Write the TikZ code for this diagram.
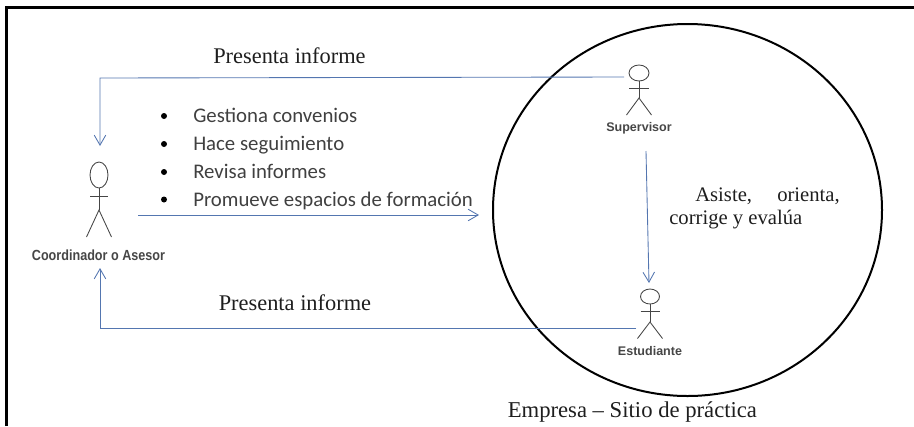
\documentclass[tikz,border=0pt]{standalone}
\usepackage{fontspec}
\setmainfont{Liberation Serif}
\newfontfamily\calibrilike{Carlito}
\newfontfamily\arialn{Liberation Sans}
\newfontfamily\arialnarrow[FakeStretch=0.86]{Liberation Sans}
\usetikzlibrary{arrows.meta}
\definecolor{conn}{RGB}{84,118,176}
\definecolor{ink}{RGB}{30,30,30}
\definecolor{stick}{RGB}{70,70,70}
\tikzset{
 x=0.75pt,y=-0.75pt,
 flow/.style={draw=conn,line width=0.65pt,-{Straight Barb[length=7.5pt,width=9pt,angle'=60]}},
 seglabel/.style={font=\fontsize{16.8}{18}\selectfont,text=ink,inner sep=0pt,anchor=base west},
 midlabel/.style={font=\fontsize{15.5}{18}\selectfont,text=ink,inner sep=0pt,anchor=base west},
 listlabel/.style={font=\calibrilike\fontsize{15.6}{18}\selectfont,text=ink!85,inner sep=0pt,anchor=base west},
 dotmark/.style={circle,fill=black,inner sep=0pt,minimum size=4.5pt},
 actorlabel/.style={font=\arialn\bfseries\fontsize{9.4}{11}\selectfont,text=stick,inner sep=0pt},
 limb/.style={draw=stick,line width=0.65pt},
}
\newcommand{\actorfig}[7]{% x, y of head centre, rx, ry, cross, hip, feet
 \begin{scope}[shift={(#1,#2)}]
  \draw[limb] (0,0) ellipse (#3 and #4);
  \draw[limb] (0,#4) -- (0,#6);
  \draw[limb] (-#3,#5) -- (#3,#5);
  \draw[limb] (-12.5,#7) -- (0,#6) -- (12.5,#7);
 \end{scope}}
\begin{document}
\begin{tikzpicture}
\useasboundingbox (0,0) rectangle (914,426);
\draw[black,line width=2.2pt] (6.5,426) -- (6.5,7.5) -- (914,7.5);
\draw[black,line width=1.5pt] (687.5,210) ellipse (194.5 and 186);
\actorfig{99}{175}{9}{13}{21}{35}{62}
\actorfig{639}{73}{10}{8}{15}{25}{42}
\actorfig{650}{296.5}{9.5}{7.5}{14.5}{25.5}{42}
\node[actorlabel,font=\arialnarrow\bfseries\fontsize{11}{12}\selectfont] (coordl) at (98.5,255) {Coordinador o Asesor};
\node[actorlabel] (supl) at (639,128.5) {Supervisor};
\node[actorlabel] (estl) at (650,351) {Estudiante};
\node[seglabel] (p1) at (213,63) {Presenta informe};
\node[seglabel] (p2) at (218.5,310) {Presenta informe};
\node[dotmark] (d1) at (164,116) {};
\node[dotmark] (d2) at (164,144) {};
\node[dotmark] (d3) at (164,172) {};
\node[dotmark] (d4) at (164,199.5) {};
\node[listlabel] (l1) at (193,122) {Gestiona convenios};
\node[listlabel] (l2) at (193,150) {Hace seguimiento};
\node[listlabel] (l3) at (193,178) {Revisa informes};
\node[listlabel] (l4) at (193,206) {Promueve espacios de formación};
\node[midlabel] (a1) at (695,201) {Asiste,};
\node[midlabel] (a2) at (777,201) {orienta,};
\node[midlabel] (a3) at (669,224) {corrige y evalúa};
\node[seglabel,font=\fontsize{17}{18}\selectfont] (e) at (507.5,417) {Empresa – Sitio de práctica};
\coordinate (supout) at (624,77);
\coordinate (coordin) at (100,146);
\coordinate (estout) at (636,328.5);
\coordinate (coordin2) at (100,268);
\coordinate (m1) at (138,215);
\coordinate (m2) at (479,215);
\coordinate (s1) at (646,151);
\coordinate (s2) at (649,283);
\draw[flow] (supout) -- (100,78) -- (coordin);
\draw[flow] (estout) -- (100,328.5) -- (coordin2);
\draw[flow] (m1) -- (m2);
\draw[flow] (s1) -- (s2);
\end{tikzpicture}
\end{document}
